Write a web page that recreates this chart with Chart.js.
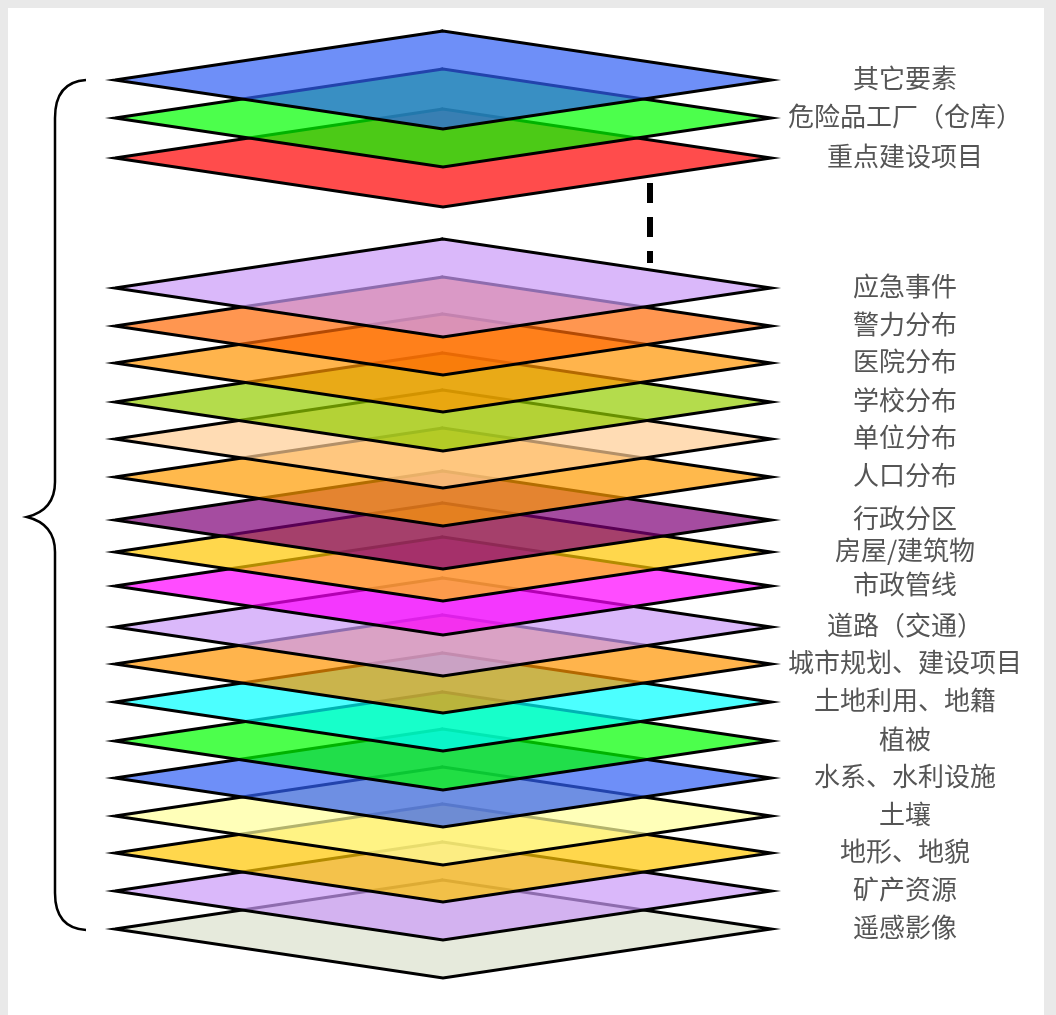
<!DOCTYPE html>
<html>
<head>
<meta charset="utf-8">
<script src="https://cdn.jsdelivr.net/npm/chart.js@4.4.1/dist/chart.umd.min.js"></script>
<style>
    html, body { margin: 0; padding: 0; background: #e9e9e9; overflow: hidden; width: 1056px; height: 1015px; }
    #frame { position: absolute; left: 8px; top: 8px; width: 1036px; height: 1007px; background: #fff; }
</style>
</head>
<body>
<div id="frame"><canvas id="layersChart" width="1036" height="1007"></canvas></div>
<script>

const layerNames = ['其它要素', '危险品工厂（仓库）', '重点建设项目', '应急事件', '警力分布', '医院分布', '学校分布', '单位分布',
    '人口分布', '行政分区', '房屋/建筑物', '市政管线', '道路（交通）', '城市规划、建设项目', '土地利用、地籍', '植被',
    '水系、水利设施', '土壤', '地形、地貌', '矿产资源', '遥感影像']

// level of each layer (left/right corner), top to bottom
const layerLevels = [80, 118, 158, 288, 326, 363, 402, 439, 477, 520, 552, 586, 627, 664, 702, 741, 778, 816, 853, 891, 929]

// the dashed "more layers" gap between the two groups
const gapMarker = [183, 263]

const layerColors = [
    'rgba(48,96,245,0.7)', 'rgba(0,255,0,0.7)', 'rgba(255,0,0,0.7)', 'rgba(202,154,248,0.7)',
    'rgba(255,105,5,0.7)', 'rgba(255,148,0,0.7)', 'rgba(148,205,0,0.7)', 'rgba(255,205,148,0.7)',
    'rgba(255,155,0,0.7)', 'rgba(127,0,119,0.7)', 'rgba(255,198,0,0.7)', 'rgba(255,0,255,0.7)',
    'rgba(202,154,248,0.7)', 'rgba(255,148,0,0.7)', 'rgba(0,255,255,0.7)', 'rgba(0,255,0,0.7)',
    'rgba(48,96,245,0.7)', 'rgba(255,255,155,0.7)', 'rgba(255,198,0,0.7)', 'rgba(202,154,248,0.7)',
    'rgba(220,225,205,0.7)'
]

const centerX = 443
const halfWidth = 328
const halfHeight = 49
const labelX = 905
const gapX = 650

const diamond = level => [
    { x: centerX - halfWidth, y: level },
    { x: centerX, y: level - halfHeight },
    { x: centerX + halfWidth, y: level },
    { x: centerX, y: level + halfHeight },
    { x: centerX - halfWidth, y: level },
    { x: centerX, y: level - halfHeight }
]

const layerDatasets = layerLevels.map((level, i) => ({
    label: layerNames[i],
    data: diamond(level),
    fill: 'shape',
    backgroundColor: layerColors[i],
    borderColor: '#000',
    borderWidth: 3,
    borderJoinStyle: 'miter',
    pointRadius: 0,
    tension: 0,
    clip: false
}))

const gapDataset = {
    label: 'gap',
    data: gapMarker.map(y => ({ x: gapX, y })),
    fill: false,
    borderColor: '#000',
    borderWidth: 6,
    borderDash: [20, 14],
    pointRadius: 0,
    clip: false
}


const annotations = {
    id: 'annotations',
    afterDatasetsDraw(chart) {
        const { ctx, scales: { x, y } } = chart
        const px = v => x.getPixelForValue(v)
        const py = v => y.getPixelForValue(v)

        ctx.save()
        ctx.font = '26px "Noto Sans CJK SC"'
        ctx.fillStyle = '#555'
        ctx.textAlign = 'center'
        ctx.textBaseline = 'middle'
        layerNames.forEach((name, i) => ctx.fillText(name, px(labelX), py(layerLevels[i] - 2)))

        // curly brace on the left
        const top = layerLevels[0]
        const bottom = layerLevels[layerLevels.length - 1]
        const tip = 517
        ctx.strokeStyle = '#000'
        ctx.lineWidth = 2.5
        ctx.beginPath()
        ctx.moveTo(px(86), py(top))
        ctx.quadraticCurveTo(px(55), py(top + 2), px(55), py(top + 38))
        ctx.lineTo(px(55), py(tip - 35))
        ctx.quadraticCurveTo(px(55), py(tip - 7), px(27), py(tip))
        ctx.quadraticCurveTo(px(55), py(tip + 7), px(55), py(tip + 35))
        ctx.lineTo(px(55), py(bottom - 36))
        ctx.quadraticCurveTo(px(55), py(bottom - 1), px(86), py(bottom + 1))
        ctx.stroke()
        ctx.restore()
    }
}


new Chart('layersChart', {
    type: 'line',
    data: { datasets: [...layerDatasets, gapDataset] },
    options: {
        responsive: false,
        animation: false,
        layout: { padding: 0 },
        plugins: {
            legend: { display: false },
            tooltip: { enabled: false }
        },
        scales: {
            x: { type: 'linear', min: 8, max: 1044, display: false },
            y: { type: 'linear', min: 8, max: 1015, reverse: true, display: false }
        }
    },
    plugins: [annotations]
})

</script>
</body>
</html>
